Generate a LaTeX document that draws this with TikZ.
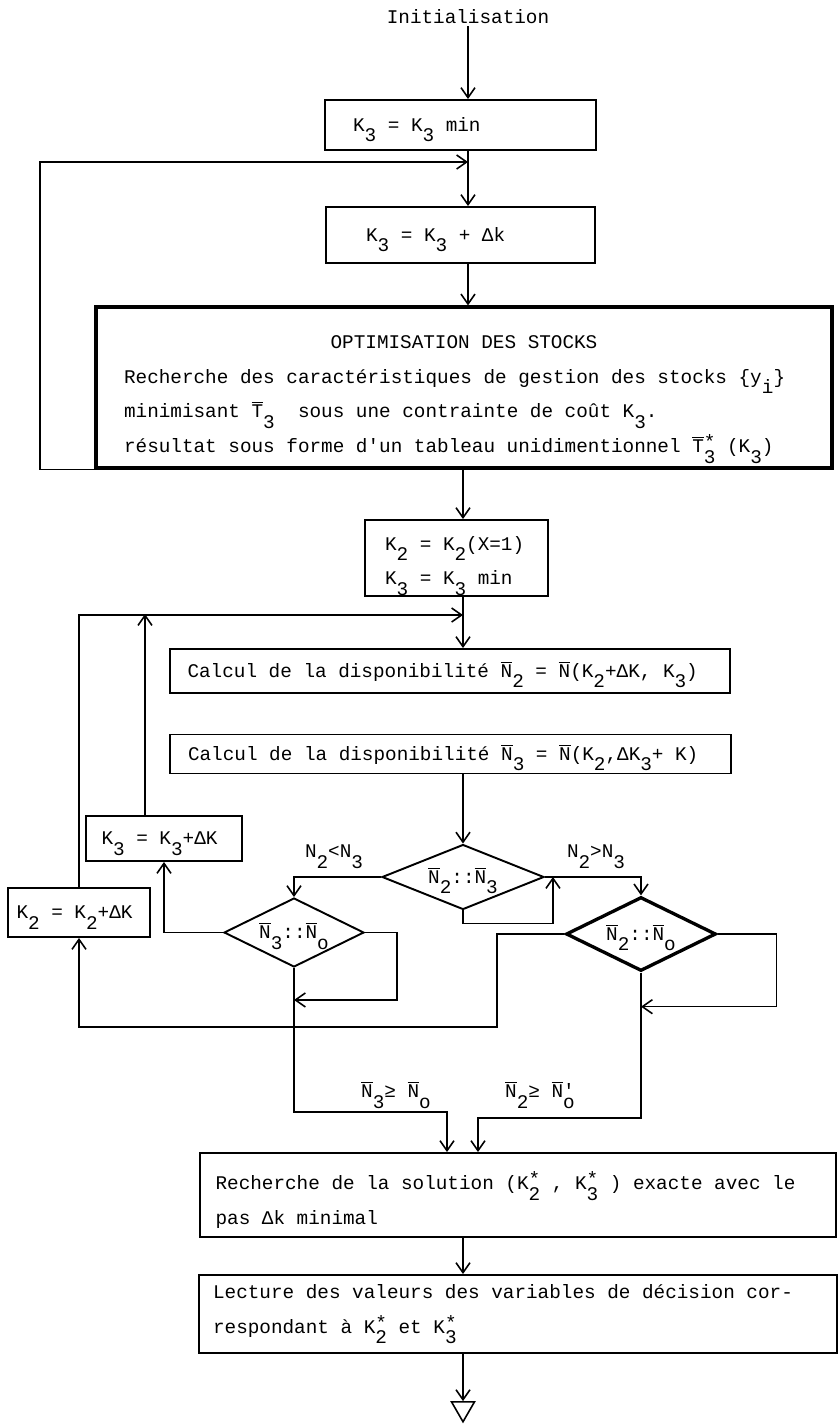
\documentclass[tikz,border=0pt]{standalone}
\usepackage{fontspec}
\setmonofont{Liberation Mono}
\usetikzlibrary{shapes.geometric, arrows.meta, calc}

\newcommand{\twfont}{\ttfamily\fontsize{11}{19.8}\selectfont}
\newcommand{\subdown}[1]{\raisebox{-0.55em}{#1}}
\newcommand{\starsub}[1]{\rlap{\raisebox{0.2em}{*}}\raisebox{-0.55em}{#1}}
\newcommand{\nbar}{\ensuremath{\overline{\mbox{N}}}}
\newcommand{\tbar}{\ensuremath{\overline{\mbox{T}}}}

\tikzset{
  box/.style={rectangle, draw, line width=1.1pt, align=left, inner ysep=0pt,
    execute at begin node={\spaceskip=6.6pt\xspaceskip=6.6pt\relax}},
  boxT/.style={box, line width=1.8pt},
  one/.style={text height=1.6ex, text depth=0pt},
  cmp/.style={diamond, draw, line width=1.1pt, inner sep=0pt, aspect=2.4, one},
  cmpT/.style={cmp, line width=1.9pt},
  arr/.style={-{Straight Barb[length=2mm,width=2.8mm]}, line width=0.9pt},
  lbl/.style={inner sep=1pt},
}

\begin{document}
\begin{tikzpicture}[x=0.02cm, y=-0.02cm,
                    every node/.style={font=\twfont}]
  \useasboundingbox (0,0) rectangle (838,1426);

  % ---- Start ----
  \node[lbl] (init) at (468,17) {Initialisation};

  \node[box, one, minimum height=1.0cm, text width=4.3cm, inner xsep=0.56cm]
        (kmin) at (460.5,125) {K\subdown{3} = K\subdown{3} min};
  \node[box, one, minimum height=1.12cm, text width=3.78cm, inner xsep=0.8cm]
        (kstep) at (460.5,235) {K\subdown{3} = K\subdown{3} + Δk};

  % ---- Stock optimisation ----
  \node[boxT, minimum height=3.22cm, text width=13.6cm, inner xsep=0.56cm]
        (optim) at (464,387.5)
        {\makebox[\linewidth]{\rule{0pt}{21pt}OPTIMISATION DES STOCKS}\\
         Recherche des caractéristiques de gestion des stocks \{y\subdown{i}\}\\
         minimisant \tbar\subdown{3}~ sous une contrainte de coût K\subdown{3}.\\
         résultat sous forme d'un tableau unidimentionnel \tbar\starsub{3} (K\subdown{3})};

  % ---- Availability ----
  \node[box, minimum height=1.52cm, text width=2.86cm, inner xsep=0.4cm]
        (kinit) at (456.5,558)
        {\rule{0pt}{17pt}K\subdown{2} = K\subdown{2}(X=1)\\K\subdown{3} = K\subdown{3} min};
  \node[box, one, minimum height=0.88cm, text width=10.5cm, inner xsep=0.35cm]
        (calc2) at (450,671)
        {Calcul de la disponibilité \nbar\subdown{2} = \nbar(K\subdown{2}+ΔK, K\subdown{3})};
  \node[box, one, minimum height=0.78cm, text width=10.5cm, inner xsep=0.36cm]
        (calc3) at (450.5,754)
        {Calcul de la disponibilité \nbar\subdown{3} = \nbar(K\subdown{2},ΔK\subdown{3}+ K)};

  % ---- Tests ----
  \node[cmp, minimum width=3.24cm, minimum height=1.3cm]
        (cmp23) at (463,877) {\nbar\subdown{2}::\nbar\subdown{3}};
  \node[cmp, minimum width=2.8cm, minimum height=1.38cm]
        (cmp3o) at (294,932.5) {\nbar\subdown{3}::\nbar\subdown{o}};
  \node[cmpT, minimum width=3.0cm, minimum height=1.48cm]
        (cmp2o) at (641,934) {\nbar\subdown{2}::\nbar\subdown{o}};

  % ---- Increments ----
  \node[box, one, minimum height=0.9cm, text width=2.5cm, inner xsep=0.31cm]
        (inc3) at (164,838.5) {K\subdown{3} = K\subdown{3}+ΔK};
  \node[box, one, minimum height=0.98cm, text width=2.5cm, inner xsep=0.17cm]
        (inc2) at (79,912.5) {K\subdown{2} = K\subdown{2}+ΔK};

  % ---- Result ----
  \node[box, minimum height=1.68cm, text width=12.1cm, inner xsep=0.31cm]
        (rech) at (518,1195)
        {\rule{0pt}{16pt}Recherche de la solution (K\starsub{2} , K\starsub{3} ) exacte avec le\\
         pas Δk minimal};
  \node[box, minimum height=1.56cm, text width=12.2cm, inner xsep=0.29cm]
        (lect) at (518,1314)
        {Lecture des valeurs des variables de décision cor-\\
         respondant à K\starsub{2} et K\starsub{3}};
  \node[draw, regular polygon, regular polygon sides=3, shape border rotate=180,
        minimum size=0.53cm, inner sep=0pt, line width=0.9pt]
        (fin) at (463,1408.5) {};

  % ---- Labels ----
  \node[lbl] (lt)  at (334,857) {N\subdown{2}<N\subdown{3}};
  \node[lbl] (gt)  at (596,857) {N\subdown{2}>N\subdown{3}};
  \node[lbl] (ge3) at (396,1095) {\nbar\subdown{3}≥ \nbar\subdown{o}};
  \node[lbl] (ge2) at (540,1095) {\nbar\subdown{2}≥ \nbar\rlap{'}\subdown{o}};

  % ---- Junctions ----
  \coordinate (j1)  at (468,162);
  \coordinate (lp1) at (40,162);
  \coordinate (j2)  at (463,615);
  \coordinate (jc)  at (497,1027);
  \coordinate (ja)  at (447,1112);
  \coordinate (jb)  at (478,1118);

  % ---- Arrows ----
  \draw[arr] (init) -- (init |- kmin.north);
  \draw[arr] (init |- kmin.south) -- (init |- kstep.north);
  \draw[arr] (init |- kstep.south) -- (init |- optim.north);
  \draw[arr] (optim.south west) -| (lp1) -- (j1);
  \draw[arr] (cmp23 |- optim.south) -- (cmp23 |- kinit.north);
  \draw[arr] (cmp23 |- kinit.south) -- (cmp23 |- calc2.north);
  \draw[arr] (cmp23 |- calc3.south) -- (cmp23);
  \draw[arr] (cmp23.west) -| (cmp3o.north);
  \draw[arr] (cmp23.east) -| (cmp2o.north);
  \draw[arr] (cmp23.south) -- ++(0,13) -| ($(cmp23.east)+(8,0)$);
  \draw[arr] (cmp3o.west) -| (inc3.south);
  \draw[arr] (cmp3o.east) -- ++(32,0) |- ($(cmp3o.south)+(0,32)$);
  \draw[arr] (cmp2o.west) -| (jc) -| (inc2.south);
  \draw[arr] (cmp2o.east) -- ++(59,0) |- ($(cmp2o.south)+(0,34)$);
  \draw[arr] (inc2.north) |- (j2);
  \draw[arr] (inc3.north) ++(-19,0) -- ++(0,-201);
  \draw[arr] (cmp3o.south) |- (ja) -- (ja |- rech.north);
  \draw[arr] (cmp2o.south) |- (jb) -- (jb |- rech.north);
  \draw[arr] (cmp23 |- rech.south) -- (cmp23 |- lect.north);
  \draw[arr] (cmp23 |- lect.south) -- (fin);
\end{tikzpicture}
\end{document}
